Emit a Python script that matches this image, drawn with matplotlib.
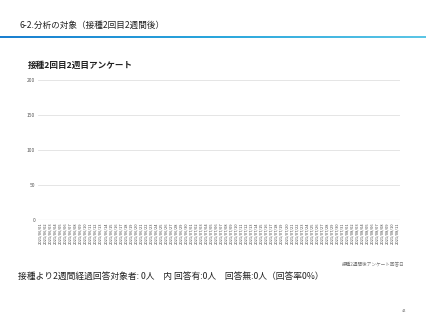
import matplotlib.pyplot as plt
import numpy as np
import pandas as pd
from matplotlib.colors import LinearSegmentedColormap

plt.rcParams['font.family'] = ['Noto Sans CJK JP', 'DejaVu Sans']

# données : dates de réponse (toutes à zéro)
dates = pd.date_range("2021/06/01", periods=72, freq="D").strftime("%Y/%m/%d").tolist()
counts = [0] * len(dates)
y_ticks = [0, 50, 100, 150, 200]

fig = plt.figure(figsize=(4.27, 3.2), dpi=100)

# titre de la page
fig.text(20 / 427, 1 - 25 / 320, "6-2.分析の対象（接種2回目2週間後）",
         fontsize=6.2, va="center", ha="left", color="#222222")

# ligne dégradée bleue
band = fig.add_axes([0, 1 - 38.5 / 320, 1, 3 / 320])
cmap = LinearSegmentedColormap.from_list("b", ["#1a7fd0", "#2aa6dc", "#5cc6e6"])
band.imshow(np.linspace(0, 1, 256).reshape(1, -1), aspect="auto", cmap=cmap)
band.axis("off")

# titre du graphique
fig.text(28 / 427, 1 - 65 / 320, "接種2回目2週目アンケート",
         fontsize=6.2, fontweight="bold", va="center", ha="left", color="#222222")

ax = fig.add_axes([38 / 427, 1 - 220 / 320, 362 / 427, 140 / 320])
x = np.arange(len(dates))
ax.bar(x, counts, color="#4472c4")
ax.set_ylim(0, 200)
ax.set_xlim(-0.5, len(dates) - 0.5)
ax.set_yticks(y_ticks)
ax.set_yticklabels([str(v) for v in y_ticks], fontsize=3.5, color="#555555")
ax.set_xticks(x)
ax.set_xticklabels(dates, rotation=90, fontsize=2.9, color="#444444")
ax.tick_params(length=0, pad=2)
ax.grid(axis="y", color="#e0e0e0", linewidth=0.6)
ax.set_axisbelow(True)
for s in ax.spines.values():
    s.set_visible(False)
ax.axhline(0, color="#c8c8c8", linewidth=0.8)

# légende de l'axe x
fig.text(405 / 427, 1 - 264 / 320, "接種2週間後アンケート回答日",
         fontsize=3.3, va="center", ha="right", color="#777777")

# texte récapitulatif
fig.text(18 / 427, 1 - 276 / 320,
         "接種より2週間経過回答対象者: 0人　内 回答有:0人　回答無:0人（回答率0%）",
         fontsize=6.3, va="center", ha="left", color="#222222")

# numéro de page
fig.text(404 / 427, 1 - 311 / 320, "44", fontsize=3, va="center", ha="center",
         color="#888888")

fig.savefig("out.png", dpi=100)
